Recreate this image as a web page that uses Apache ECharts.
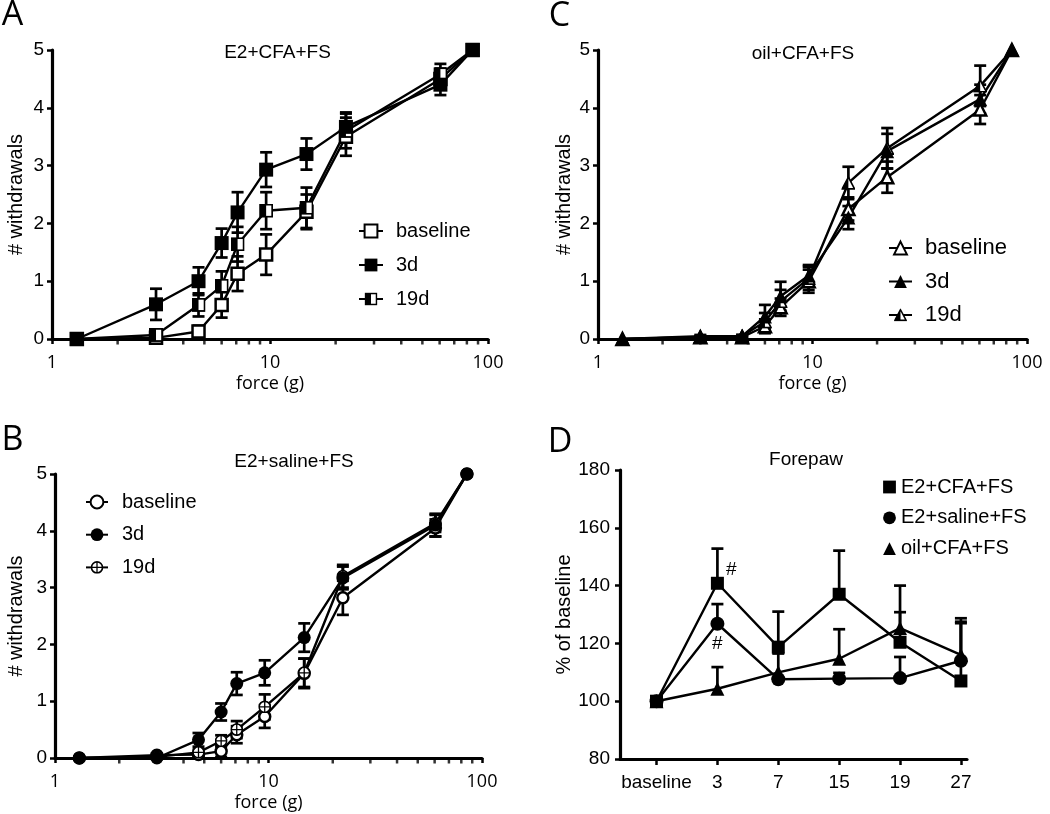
<!DOCTYPE html>
<html><head><meta charset="utf-8">
<script src="https://cdn.jsdelivr.net/npm/echarts@6/dist/echarts.min.js"></script>
<style>html,body{margin:0;padding:0;background:#fff}#c{width:1050px;height:814px}</style>
</head><body><div id="c"></div>
<script>
// ---------- data ----------
const forces = [1.3, 3.0, 4.7, 6.0, 7.1, 9.6, 14.7, 22.3, 60.5, 85];
const minorTicks = [2, 3, 4, 5, 6, 7, 8, 9, 20, 30, 40, 50, 60, 70, 80, 90];
const groups = ['baseline', '3d', '19d'];
const dayLabels = ['baseline', '3', '7', '15', '19', '27'];
const dayIndex = [0, 1, 2, 3, 4, 5];

// A: E2+CFA+FS
const aBaseline = [0, 0.02, 0.13, 0.59, 1.13, 1.46, 2.2, 3.5, 4.5, 5];
const aBaselineErr = [0, 0.03, 0.1, 0.22, 0.3, 0.35, 0.3, 0.33, 0.18, 0];
const a3d = [0, 0.6, 1.0, 1.66, 2.19, 2.93, 3.2, 3.67, 4.4, 5];
const a3dErr = [0, 0.27, 0.24, 0.25, 0.35, 0.3, 0.27, 0.25, 0.18, 0];
const a19d = [0, 0.07, 0.59, 0.92, 1.64, 2.22, 2.27, 3.6, 4.58, 5];
const a19dErr = [0, 0.05, 0.2, 0.25, 0.3, 0.32, 0.35, 0.3, 0.18, 0];

// B: E2+saline+FS
const bBaseline = [0, 0.05, 0.06, 0.12, 0.41, 0.73, 1.49, 2.82, 4.05, 5];
const bBaselineErr = [0, 0.03, 0.03, 0.1, 0.15, 0.2, 0.26, 0.3, 0.15, 0];
const b3d = [0, 0.0, 0.32, 0.81, 1.31, 1.5, 2.12, 3.17, 4.1, 5];
const b3dErr = [0, 0.02, 0.12, 0.15, 0.2, 0.22, 0.25, 0.2, 0.2, 0];
const b19d = [0, 0.02, 0.1, 0.3, 0.5, 0.9, 1.5, 3.2, 4.13, 5];
const b19dErr = [0, 0.02, 0.05, 0.1, 0.15, 0.22, 0.25, 0.2, 0.15, 0];

// C: oil+CFA+FS
const cBaseline = [0, 0.03, 0.03, 0.22, 0.55, 1.0, 2.25, 2.8, 3.97, 5];
const cBaselineErr = [0, 0.02, 0.02, 0.12, 0.15, 0.2, 0.2, 0.27, 0.25, 0];
const c3d = [0, 0.05, 0.05, 0.39, 0.74, 1.1, 2.1, 3.25, 4.15, 5];
const c3dErr = [0, 0.02, 0.02, 0.2, 0.25, 0.18, 0.2, 0.3, 0.25, 0];
const c19d = [0, 0.03, 0.05, 0.3, 0.65, 1.05, 2.7, 3.3, 4.38, 5];
const c19dErr = [0, 0.02, 0.02, 0.15, 0.2, 0.2, 0.28, 0.35, 0.35, 0];

// D: Forepaw, % of baseline
const dNames = ['E2+CFA+FS', 'E2+saline+FS', 'oil+CFA+FS'];
const dSquare = [100, 140.8, 118.7, 137, 120.4, 107];
const dSquareErr = [0, 12, 12.3, 15.1, 10.4, 20.5];
const dCircle = [100, 126.8, 107.6, 107.8, 108, 114];
const dCircleErr = [0, 6.8, 0, 2, 7.3, 14.7];
const dTriangle = [100, 104.3, 110, 114.7, 125.3, 116];
const dTriangleErr = [0, 7.5, 6.5, 10.2, 14.7, 11];

// ---------- helpers ----------
const BLACK = '#000';
const FONT = 'Liberation Sans, Arial, sans-serif';
const FONT2 = 'Open Sans, sans-serif';
const svgSym = s => 'image://data:image/svg+xml;charset=utf-8,' + encodeURIComponent(s);
const halfSquare = svgSym("<svg xmlns='http://www.w3.org/2000/svg' width='40' height='40' viewBox='0 0 20 20'><rect x='1.3' y='1.3' width='17.4' height='17.4' fill='#fff' stroke='#000' stroke-width='2.6'/><rect x='1.3' y='1.3' width='8.7' height='17.4' fill='#000'/></svg>");
const crossCircle = svgSym("<svg xmlns='http://www.w3.org/2000/svg' width='40' height='40' viewBox='0 0 20 20'><circle cx='10' cy='10' r='8.6' fill='#fff' stroke='#000' stroke-width='2.6'/><line x1='10' y1='1.5' x2='10' y2='18.5' stroke='#000' stroke-width='2'/><line x1='1.5' y1='10' x2='18.5' y2='10' stroke='#000' stroke-width='2'/></svg>");
const halfTriangle = svgSym("<svg xmlns='http://www.w3.org/2000/svg' width='40' height='40' viewBox='0 0 20 20'><polygon points='10,1.8 18.8,18.4 1.2,18.4' fill='#fff' stroke='#000' stroke-width='2.4' stroke-linejoin='miter'/><polygon points='10,1.8 10,18.4 1.2,18.4' fill='#000'/></svg>");

function pairs(xs, ys) { return xs.map((x, i) => [x, ys[i]]); }

function errSeries(xs, ys, es, axis, both, cap) {
  return {
    type: 'custom', xAxisIndex: axis, yAxisIndex: axis, silent: true, z: 2,
    data: xs.map((x, i) => [x, ys[i], es[i]]),
    renderItem(params, api) {
      const x = api.value(0), y = api.value(1), e = api.value(2);
      if (!e) return null;
      const top = api.coord([x, y + e]);
      const bot = api.coord([x, both ? y - e : y]);
      const st = { stroke: BLACK, lineWidth: 2.7 };
      const ch = [
        { type: 'line', shape: { x1: top[0], y1: top[1], x2: bot[0], y2: bot[1] }, style: st },
        { type: 'line', shape: { x1: top[0] - cap, y1: top[1], x2: top[0] + cap, y2: top[1] }, style: st }
      ];
      if (both) ch.push({ type: 'line', shape: { x1: bot[0] - cap, y1: bot[1], x2: bot[0] + cap, y2: bot[1] }, style: st });
      return { type: 'group', children: ch };
    }
  };
}

function lineSeries(name, xs, ys, axis, symbol, size, fill) {
  return {
    type: 'line', name: name, xAxisIndex: axis, yAxisIndex: axis,
    data: pairs(xs, ys), symbol: symbol, symbolSize: size, showSymbol: true,
    lineStyle: { color: BLACK, width: 2.4 },
    itemStyle: { color: fill, borderColor: BLACK, borderWidth: fill === '#fff' ? 2.5 : 0 },
    z: 3, animation: false
  };
}

function minorTickSeries(axis) {
  return {
    type: 'scatter', xAxisIndex: axis, yAxisIndex: axis, silent: true, z: 1,
    data: minorTicks.map(v => [v, 0]), symbol: 'rect', symbolSize: [2.5, 4],
    symbolOffset: [0, 3.5], itemStyle: { color: BLACK }
  };
}

function logX(grid) {
  return {
    type: 'log', logBase: 10, min: 1, max: 100, gridIndex: grid,
    axisLine: { show: true, lineStyle: { color: BLACK, width: 3.2 } },
    axisTick: { show: true, length: 5, lineStyle: { color: BLACK, width: 2.5 } },
    axisLabel: { color: BLACK, fontFamily: FONT2, fontSize: 18, margin: 15 },
    splitLine: { show: false }, minorTick: { show: false },
    name: 'force (g)', nameLocation: 'middle', nameGap: 36,
    nameTextStyle: { color: BLACK, fontFamily: FONT2, fontSize: 18 }
  };
}
function countY(grid, gap) {
  return {
    type: 'value', min: 0, max: 5, interval: 1, gridIndex: grid,
    axisLine: { show: true, onZero: false, lineStyle: { color: BLACK, width: 3.2 } },
    axisTick: { show: true, length: 5, lineStyle: { color: BLACK, width: 2.5 } },
    axisLabel: { color: BLACK, fontFamily: FONT, fontSize: 19, margin: 8 },
    splitLine: { show: false },
    name: '# withdrawals', nameLocation: 'middle', nameGap: gap, nameRotate: 90,
    nameTextStyle: { color: BLACK, fontFamily: FONT, fontSize: 20 }
  };
}
function legendFor(prefix, left, top, itemWidth, fontSize, gap, pad) {
  return {
    orient: 'vertical', left: left, top: top, itemWidth: itemWidth, itemHeight: 16,
    itemGap: gap, selectedMode: false, padding: 0,
    data: groups.map(g => prefix + '|' + g),
    formatter: n => n.split('|')[1],
    textStyle: { color: BLACK, fontFamily: FONT, fontSize: fontSize, lineHeight: fontSize, padding: [0, 0, 0, pad] }
  };
}
function titleText(text, cx, cy, size, family) {
  return {
    text: text, left: cx, top: cy, textAlign: 'center', textVerticalAlign: 'middle', padding: 0,
    textStyle: { color: BLACK, fontFamily: family, fontSize: size, fontWeight: 'normal' }
  };
}

const dx = dayIndex;
const option = {
  backgroundColor: '#fff',
  animation: false,
  title: [
    titleText('A', 12.5, 15.5, 34, FONT2),
    titleText('C', 559.5, 16.5, 34, FONT2),
    titleText('B', 12.5, 440, 34, FONT2),
    titleText('D', 560, 442.5, 34, FONT2),
    titleText('E2+CFA+FS', 277.5, 53, 19, FONT),
    titleText('oil+CFA+FS', 803, 54, 19, FONT),
    titleText('E2+saline+FS', 294, 462, 19, FONT),
    titleText('Forepaw', 806, 460, 19, FONT)
  ],
  grid: [
    { left: 52, top: 50, width: 436, height: 289 },
    { left: 598, top: 50, width: 429, height: 289 },
    { left: 55, top: 474, width: 427, height: 284 },
    { left: 620, top: 470, width: 347, height: 289 }
  ],
  xAxis: [
    logX(0), logX(1), logX(2),
    {
      type: 'value', min: -0.6, max: 5.1, gridIndex: 3,
      axisLine: { show: true, onZero: false, lineStyle: { color: BLACK, width: 3.2 } },
      axisTick: { show: true, length: 6, customValues: dayIndex, lineStyle: { color: BLACK, width: 2.5 } },
      axisLabel: { color: BLACK, fontFamily: FONT, fontSize: 19, margin: 14, customValues: dayIndex,
        formatter: v => dayLabels[Math.round(v)] },
      splitLine: { show: false }
    }
  ],
  yAxis: [
    countY(0, 26), countY(1, 24), countY(2, 29),
    {
      type: 'value', min: 80, max: 180, interval: 20, gridIndex: 3,
      axisLine: { show: true, onZero: false, lineStyle: { color: BLACK, width: 3.2 } },
      axisTick: { show: true, length: 5, lineStyle: { color: BLACK, width: 2.5 } },
      axisLabel: { color: BLACK, fontFamily: FONT, fontSize: 19, margin: 10 },
      splitLine: { show: false },
      name: '% of baseline', nameLocation: 'middle', nameGap: 45, nameRotate: 90,
      nameTextStyle: { color: BLACK, fontFamily: FONT, fontSize: 20 }
    }
  ],
  legend: [
    legendFor('A', 358, 221, 24, 20, 14, 8),
    legendFor('C', 888, 237, 23, 22, 11.5, 8),
    legendFor('B', 85, 492, 22, 20, 12.7, 9),
    {
      orient: 'vertical', left: 882, top: 477, itemWidth: 13, itemHeight: 16, itemGap: 10.8,
      selectedMode: false, padding: 0, data: dNames,
      lineStyle: { opacity: 0 },
      textStyle: { color: BLACK, fontFamily: FONT, fontSize: 20, lineHeight: 20 }
    }
  ],
  series: [
    // A
    errSeries(forces, aBaseline, aBaselineErr, 0, true, 6),
    errSeries(forces, a3d, a3dErr, 0, true, 6),
    errSeries(forces, a19d, a19dErr, 0, true, 6),
    minorTickSeries(0),
    lineSeries('A|baseline', forces, aBaseline, 0, 'rect', 12, '#fff'),
    lineSeries('A|19d', forces, a19d, 0, halfSquare, 14, BLACK),
    lineSeries('A|3d', forces, a3d, 0, 'rect', 14, BLACK),
    // C
    errSeries(forces, cBaseline, cBaselineErr, 1, true, 6),
    errSeries(forces, c3d, c3dErr, 1, true, 6),
    errSeries(forces, c19d, c19dErr, 1, true, 6),
    minorTickSeries(1),
    lineSeries('C|baseline', forces, cBaseline, 1, 'triangle', 12, '#fff'),
    lineSeries('C|19d', forces, c19d, 1, halfTriangle, 14, BLACK),
    lineSeries('C|3d', forces, c3d, 1, 'triangle', 14, BLACK),
    // B
    errSeries(forces, bBaseline, bBaselineErr, 2, true, 6),
    errSeries(forces, b3d, b3dErr, 2, true, 6),
    errSeries(forces, b19d, b19dErr, 2, true, 6),
    minorTickSeries(2),
    lineSeries('B|baseline', forces, bBaseline, 2, 'circle', 11, '#fff'),
    lineSeries('B|19d', forces, b19d, 2, crossCircle, 13, BLACK),
    lineSeries('B|3d', forces, b3d, 2, 'circle', 13, BLACK),
    // D
    errSeries(dx, dSquare, dSquareErr, 3, false, 6),
    errSeries(dx, dCircle, dCircleErr, 3, false, 6),
    errSeries(dx, dTriangle, dTriangleErr, 3, false, 6),
    lineSeries(dNames[2], dx, dTriangle, 3, 'triangle', 14, BLACK),
    Object.assign(lineSeries(dNames[1], dx, dCircle, 3, 'circle', 14, BLACK), {
      markPoint: { silent: true, symbol: 'circle', symbolSize: 0, animation: false,
        label: { show: true, formatter: '#', color: BLACK, fontFamily: FONT, fontSize: 19, offset: [0, 20] },
        data: [{ coord: [dx[1], dCircle[1]] }] }
    }),
    Object.assign(lineSeries(dNames[0], dx, dSquare, 3, 'rect', 13, BLACK), {
      markPoint: { silent: true, symbol: 'circle', symbolSize: 0, animation: false,
        label: { show: true, formatter: '#', color: BLACK, fontFamily: FONT, fontSize: 19, offset: [14, -14] },
        data: [{ coord: [dx[1], dSquare[1]] }] }
    })
  ]
};
const chart = echarts.init(document.getElementById('c'), null, { renderer: 'canvas' });
chart.setOption(option);
</script>
</body></html>
